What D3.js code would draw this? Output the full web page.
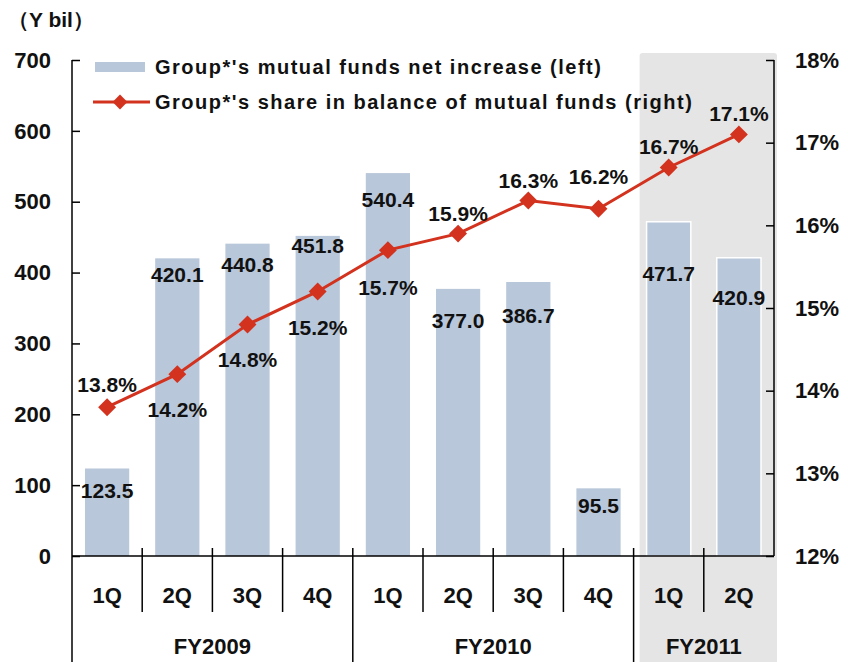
<!DOCTYPE html>
<html>
<head>
<meta charset="utf-8">
<script src="https://cdn.jsdelivr.net/npm/d3@7"></script>
<style>
  body { margin: 0; background: #fff; }
  text { font-family: "Liberation Sans", Arial, sans-serif; font-weight: bold; fill: #111; }
</style>
</head>
<body>
<svg id="chart" width="848" height="662"></svg>
<script>
// data
const quarters = ["1Q", "2Q", "3Q", "4Q", "1Q", "2Q", "3Q", "4Q", "1Q", "2Q"];
const fiscalYears = ["FY2009", "FY2010", "FY2011"];
const yearOfQuarter = [0, 0, 0, 0, 1, 1, 1, 1, 2, 2];
const netIncrease = [123.5, 420.1, 440.8, 451.8, 540.4, 377.0, 386.7, 95.5, 471.7, 420.9];
const sharePct = [13.8, 14.2, 14.8, 15.2, 15.7, 15.9, 16.3, 16.2, 16.7, 17.1];
const leftTicks = [0, 100, 200, 300, 400, 500, 600, 700];
const rightTicks = [12, 13, 14, 15, 16, 17, 18];

// label nudges (px), hand placed like the original
const barLabelDy = [22, 16, 21, 10, 27, 32, 34, 17, 52, 40];
const pctLabelDy = [-23, 36, 35, 36, 38, -20, -20, -32, -21, -21];

const svg = d3.select("#chart");
const plotL = 72, plotR = 774, plotT = 60, plotB = 556;
const fs = "22px";

const x = d3.scaleBand().domain(d3.range(quarters.length)).range([plotL, plotR]).padding(0);
const yL = d3.scaleLinear().domain([0, 700]).range([plotB, plotT]);
const yR = d3.scaleLinear().domain([12, 18]).range([plotB, plotT]);
const barW = x.bandwidth() * 0.63;

// shaded FY2011 box
svg.append("rect")
  .attr("x", x(8) + 6).attr("y", 53)
  .attr("width", plotR + 3 - (x(8) + 6)).attr("height", 620)
  .attr("rx", 3)
  .attr("fill", "#e5e5e5");

// bars
svg.selectAll(".bar")
  .data(netIncrease)
  .enter()
  .append("rect")
  .attr("class", "bar")
  .attr("x", (d, i) => x(i) + (x.bandwidth() - barW) / 2)
  .attr("y", d => yL(d))
  .attr("width", barW)
  .attr("height", d => yL(0) - yL(d))
  .attr("fill", "#b9c7da")
  .attr("stroke", (d, i) => yearOfQuarter[i] === 2 ? "#fff" : "none")
  .attr("stroke-width", 1.5);

// axes
const axL = svg.append("g").attr("transform", `translate(${plotL},0)`)
  .call(d3.axisRight(yL).tickValues(leftTicks).tickSize(8).tickFormat(""));
axL.select(".domain").remove();
axL.selectAll("line").attr("stroke", "#000").attr("stroke-width", 1.5);

const axR = svg.append("g").attr("transform", `translate(${plotR},0)`)
  .call(d3.axisLeft(yR).tickValues(rightTicks).tickSize(8).tickFormat(""));
axR.select(".domain").remove();
axR.selectAll("line").attr("stroke", "#000").attr("stroke-width", 1.5);

svg.selectAll(".lt")
  .data(leftTicks)
  .enter()
  .append("text")
  .attr("x", 51).attr("y", d => yL(d))
  .attr("dy", "0.35em")
  .attr("text-anchor", "end")
  .style("font-size", fs)
  .text(d => d);

svg.selectAll(".rt")
  .data(rightTicks)
  .enter()
  .append("text")
  .attr("x", 795).attr("y", d => yR(d))
  .attr("dy", "0.35em")
  .style("font-size", fs)
  .text(d => d + "%");

svg.append("text")
  .attr("x", 8).attr("y", 27)
  .style("font-size", "21px")
  .text("（Y bil）");

const line = (x1, y1, x2, y2) => svg.append("line")
  .attr("x1", x1).attr("y1", y1).attr("x2", x2).attr("y2", y2)
  .attr("stroke", "#000").attr("stroke-width", 1.5);

line(plotL, plotT, plotL, 662);
line(plotR, plotT, plotR, plotB);
line(plotL, plotB, plotR, plotB);

// category separators
for (let i = 1; i < quarters.length; i++) {
  const newYear = yearOfQuarter[i] !== yearOfQuarter[i - 1];
  line(x(i), plotB - 8, x(i), newYear ? 662 : 612);
}

svg.selectAll(".ql")
  .data(quarters)
  .enter()
  .append("text")
  .attr("x", (d, i) => x(i) + x.bandwidth() / 2)
  .attr("y", 595).attr("dy", "0.35em")
  .attr("text-anchor", "middle")
  .style("font-size", fs)
  .text(d => d);

svg.selectAll(".yl")
  .data(fiscalYears)
  .enter()
  .append("text")
  .attr("x", (d, k) => {
    const idx = d3.range(quarters.length).filter(i => yearOfQuarter[i] === k);
    return (x(idx[0]) + x(idx[idx.length - 1]) + x.bandwidth()) / 2;
  })
  .attr("y", 646).attr("dy", "0.35em")
  .attr("text-anchor", "middle")
  .style("font-size", fs)
  .text(d => d);

// line series
const cx = i => x(i) + x.bandwidth() / 2;
svg.append("path")
  .datum(sharePct)
  .attr("d", d3.line().x((d, i) => cx(i)).y(d => yR(d)))
  .attr("fill", "none")
  .attr("stroke", "#d2321e")
  .attr("stroke-width", 3);

const diamond = d3.symbol().type(d3.symbolSquare).size(160);
svg.selectAll(".pt")
  .data(sharePct)
  .enter()
  .append("path")
  .attr("d", diamond)
  .attr("transform", (d, i) => `translate(${cx(i)},${yR(d)}) rotate(45)`)
  .attr("fill", "#d2321e");

// value labels
svg.selectAll(".bv")
  .data(netIncrease)
  .enter()
  .append("text")
  .attr("x", (d, i) => cx(i))
  .attr("y", (d, i) => yL(d) + barLabelDy[i])
  .attr("dy", "0.35em")
  .attr("text-anchor", "middle")
  .style("font-size", "21px")
  .text(d => d.toFixed(1));

svg.selectAll(".pv")
  .data(sharePct)
  .enter()
  .append("text")
  .attr("x", (d, i) => cx(i))
  .attr("y", (d, i) => yR(d) + pctLabelDy[i])
  .attr("dy", "0.35em")
  .attr("text-anchor", "middle")
  .style("font-size", "21px")
  .text(d => d.toFixed(1) + "%");

// legend
const lg = svg.append("g");
lg.append("rect").attr("x", 95).attr("y", 62).attr("width", 50).attr("height", 10).attr("fill", "#b9c7da");
lg.append("line").attr("x1", 93).attr("y1", 102).attr("x2", 150).attr("y2", 102)
  .attr("stroke", "#d2321e").attr("stroke-width", 3);
lg.append("path").attr("d", d3.symbol().type(d3.symbolSquare).size(110))
  .attr("transform", "translate(120,102) rotate(45)").attr("fill", "#d2321e");
lg.append("text").attr("x", 155).attr("y", 67).attr("dy", "0.35em")
  .style("font-size", "20px").style("letter-spacing", "1.5px")
  .text("Group*'s mutual funds net increase (left)");
lg.append("text").attr("x", 155).attr("y", 102).attr("dy", "0.35em")
  .style("font-size", "20px").style("letter-spacing", "1.5px")
  .text("Group*'s share in balance of mutual funds (right)");
</script>
</body>
</html>
